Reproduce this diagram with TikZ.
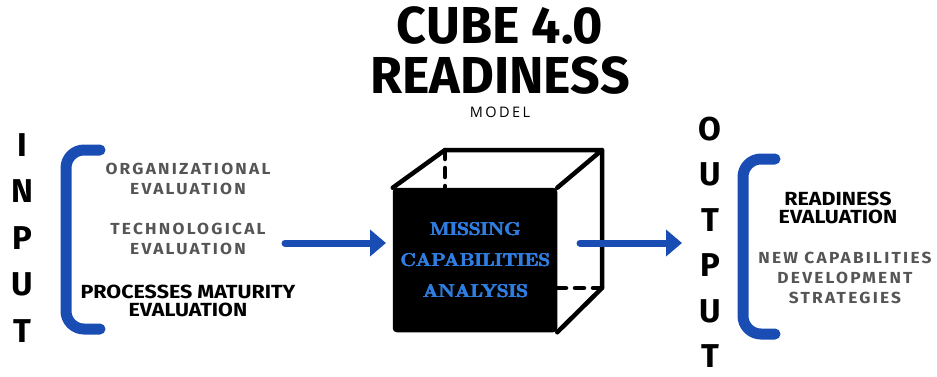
\documentclass[tikz,border=0pt]{standalone}
\usepackage{fontspec}
\newfontfamily\titlefont{Fira Sans}
\newfontfamily\wideblack[FakeStretch=1.13]{Fira Sans}
\newfontfamily\spacedfont[LetterSpace=14, FakeStretch=1.08]{Fira Sans}
\newfontfamily\modelfont[LetterSpace=17]{Open Sans}
\usetikzlibrary{arrows.meta}
\definecolor{bracketblue}{HTML}{1A4DB3}
\definecolor{cubeblue}{HTML}{2F7DE1}
\definecolor{softgray}{HTML}{555555}
% heavier slab lettering: the word is set with small offset overprints
\newcommand\heavyword[1]{\leavevmode\rlap{\kern0.8pt#1}\rlap{\raisebox{0.45pt}{#1}}\rlap{\kern0.8pt\raisebox{0.45pt}{#1}}#1}
\tikzset{
  bracket/.style={bracketblue, line width=11pt, line cap=round, rounded corners=18pt},
  flow/.style={bracketblue, line width=7pt, line cap=round, -{Triangle[length=16pt,width=26pt]}},
  edge/.style={line width=4.5pt, line cap=round, line join=round},
  letter/.style={font=\titlefont\bfseries\fontsize{33}{33}\selectfont, inner sep=0pt},
  grayitem/.style={font=\spacedfont\bfseries\fontsize{16}{20}\selectfont, text=softgray, align=center, inner sep=0pt},
  blackitem/.style={font=\wideblack\bfseries\fontsize{19}{18.5}\selectfont, align=center, inner sep=0pt},
  cubetext/.style={font=\rmfamily\bfseries\fontsize{18.5}{31}\selectfont, text=cubeblue, align=center, inner sep=0pt}
}
\begin{document}
\begin{tikzpicture}[x=1pt,y=-1pt]
\useasboundingbox (0,0) rectangle (937,376);

% title block
\node[font=\titlefont\bfseries\fontsize{52}{50}\selectfont, align=center, inner sep=0pt] (title) at (500,50) {CUBE 4.0\\READINESS};
\node[font=\modelfont\fontsize{14.5}{14.5}\selectfont, inner sep=0pt] (model) at (500,112) {MODEL};

% INPUT column
\foreach \ch [count=\i] in {I,N,P,U,T}
  \node[letter] (in\i) at (22,{145+(\i-1)*46.5}) {\ch};

% OUTPUT column
\foreach \ch [count=\i] in {O,U,T,P,U,T}
  \node[letter] (out\i) at (710,{129+(\i-1)*45.5}) {\ch};

% brackets
\coordinate (lbTop) at (100,150);
\coordinate (lbBot) at (100,329);
\draw[bracket] (lbTop) -- (66,150) -- (66,329) -- (lbBot);
\coordinate (rbTop) at (775,159);
\coordinate (rbBot) at (775,334);
\draw[bracket] (rbTop) -- (743,159) -- (743,334) -- (rbBot);

% input items
\node[grayitem] (org) at (188,179) {ORGANIZATIONAL\\EVALUATION};
\node[grayitem] (tech) at (188,239) {TECHNOLOGICAL\\EVALUATION};
\node[blackitem] (proc) at (188,301) {PROCESSES MATURITY\\EVALUATION};

% output items
\node[blackitem] (ready) at (838,208) {READINESS\\EVALUATION};
\node[grayitem] (newcap) at (845,278) {NEW CAPABILITIES\\DEVELOPMENT\\STRATEGIES};

% cube: back face, hidden edges, then the solid front face
\coordinate (bTL) at (445,150);
\coordinate (bTR) at (602,150);
\coordinate (bBR) at (602,288);
\coordinate (bBL) at (445,288);
\node[draw, fill=black, edge, rounded corners=2pt, minimum width=160pt, minimum height=140pt, inner sep=0pt] (front) at (475,260) {};
\draw[edge] (front.north west) -- (bTL) -- (bTR) -- (front.north east);
\draw[edge] (bTR) -- (bBR) -- (front.south east);
\draw[edge, dash pattern=on 9pt off 9pt] (bTL) -- (front.north west -| bTL);
\draw[edge, dash pattern=on 9pt off 9pt] (bBR) -- (front.east |- bBR);
\node[cubetext] (missing) at (front.center) {\heavyword{MISSING}\\\heavyword{CAPABILITIES}\\\heavyword{ANALYSIS}};

% flow arrows
\coordinate (inStart) at (285,243);
\coordinate (inEnd) at (386,243);
\coordinate (outStart) at (580,243);
\coordinate (outEnd) at (682,243);
\draw[flow] (inStart) -- (inEnd);
\draw[flow] (outStart) -- (outEnd);
\end{tikzpicture}
\end{document}
